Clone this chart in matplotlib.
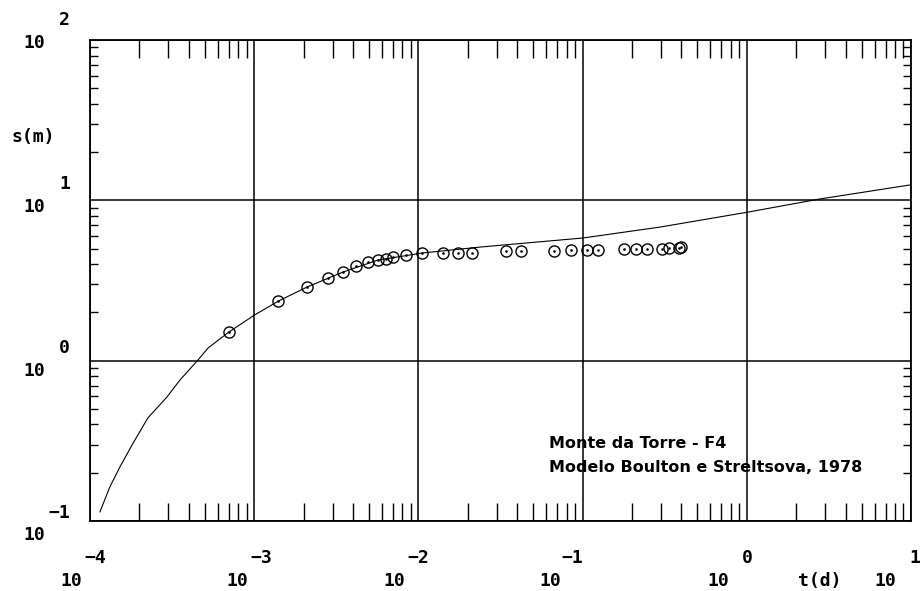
import numpy as np
import matplotlib
matplotlib.use('Agg')
import matplotlib.pyplot as plt
from matplotlib.ticker import LogLocator, NullFormatter

# observed drawdown, t in days, s in metres
t_obs = [7.0e-4, 1.40e-3, 2.10e-3, 2.82e-3, 3.47e-3, 4.17e-3, 4.93e-3, 5.67e-3, 6.35e-3,
         7.0e-3, 8.4e-3, 1.05e-2, 1.41e-2, 1.74e-2, 2.12e-2, 3.42e-2, 4.21e-2, 6.70e-2,
         8.50e-2, 0.106, 0.124, 0.179, 0.211, 0.247, 0.305, 0.336, 0.386, 0.397]
s_obs = [1.51, 2.35, 2.88, 3.27, 3.57, 3.89, 4.12, 4.24, 4.30,
         4.43, 4.56, 4.69, 4.69, 4.69, 4.69, 4.83, 4.83, 4.83,
         4.90, 4.90, 4.90, 4.97, 4.97, 4.97, 4.97, 5.04, 5.04, 5.11]

# Boulton & Streltsova type curve
t_model = [1.15e-4, 1.32e-4, 1.52e-4, 1.80e-4, 2.25e-4, 2.94e-4, 3.53e-4, 4.49e-4, 5.24e-4,
           7.02e-4, 1.0e-3, 1.40e-3, 2.10e-3, 3.47e-3, 5.67e-3, 1.05e-2, 2.37e-2, 0.100,
           0.296, 1.02, 2.79, 10.0]
s_model = [0.114, 0.163, 0.217, 0.297, 0.439, 0.593, 0.757, 0.995, 1.20,
           1.51, 1.92, 2.35, 2.88, 3.57, 4.24, 4.69, 5.11, 5.82,
           6.81, 8.45, 10.2, 12.5]

x_exp = [-4, -3, -2, -1, 0, 1]
y_exp = [-1, 0, 1, 2]
title_lines = ['Monte da Torre - F4', 'Modelo Boulton e Streltsova, 1978']

PX = 0.72  # points per pixel at dpi 100
mono = dict(family='DejaVu Sans Mono', fontweight='bold', fontsize=13)

fig = plt.figure(figsize=(9.21, 5.91), dpi=100)
ax = fig.add_axes([90 / 921, 70 / 591, 821 / 921, 481 / 591])

ax.plot(t_model, s_model, color='black', lw=0.8)
ax.plot(t_obs, s_obs, ls='none', marker='o', ms=8, mfc='none', mec='black', mew=1.0)
ax.plot(t_obs, s_obs, ls='none', marker='.', ms=1.8, color='black')

ax.set_xscale('log')
ax.set_yscale('log')
ax.set_xlim(1e-4, 10)
ax.set_ylim(0.1, 100)

for a in (ax.xaxis, ax.yaxis):
    a.set_major_locator(LogLocator(base=10, numticks=20))
    a.set_minor_locator(LogLocator(base=10, subs=np.arange(2, 10), numticks=20))
    a.set_minor_formatter(NullFormatter())
ax.grid(True, which='major', color='black', lw=1.1)
ax.tick_params(which='major', length=0, labelbottom=False, labelleft=False)
ax.tick_params(which='minor', direction='in', top=True, right=True, width=1.0, color='black')
ax.tick_params(axis='x', which='minor', length=13)
ax.tick_params(axis='y', which='minor', length=6)
for sp in ax.spines.values():
    sp.set_linewidth(1.3)

# x labels: "10" with exponent above, offsets in pixels
x_ten_dx = [-19, -17, -24, -32, -29, -26]
x_exp_dx = [5, 7, 0, -10, 1, 4]
for e, d10, de in zip(x_exp, x_ten_dx, x_exp_dx):
    v = 10.0 ** e
    ax.annotate('10', xy=(v, 0), xycoords=('data', 'axes fraction'),
                xytext=(d10 * PX, -60 * PX), textcoords='offset points',
                ha='center', va='center', annotation_clip=False, **mono)
    ax.annotate('%d' % e if e >= 0 else '\u2212%d' % -e, xy=(v, 0),
                xycoords=('data', 'axes fraction'),
                xytext=(de * PX, -37 * PX), textcoords='offset points',
                ha='center', va='center', annotation_clip=False, **mono)

# y labels
y_ten_dy = [14, 10, 7, 3]
y_exp_dy = [-8, -13, -16, -20]
for e, d10, de in zip(y_exp, y_ten_dy, y_exp_dy):
    v = 10.0 ** e
    ax.annotate('10', xy=(0, v), xycoords=('axes fraction', 'data'),
                xytext=(-45 * PX, -d10 * PX), textcoords='offset points',
                ha='right', va='center', annotation_clip=False, **mono)
    ax.annotate('%d' % e if e >= 0 else '\u2212%d' % -e, xy=(0, v),
                xycoords=('axes fraction', 'data'),
                xytext=(-20 * PX, -de * PX), textcoords='offset points',
                ha='right', va='center', annotation_clip=False, **mono)

fig.text(33 / 921, 1 - 137 / 591, 's(m)', ha='center', va='center', **mono)
fig.text(820 / 921, 1 - 581 / 591, 't(d)', ha='center', va='center', **mono)

for i, line in enumerate(title_lines):
    fig.text(549 / 921, 1 - (443 + 24 * i) / 591, line, ha='left', va='center',
             family='DejaVu Sans', fontweight='bold', fontsize=11.5)

fig.savefig('out.png', dpi=100)
